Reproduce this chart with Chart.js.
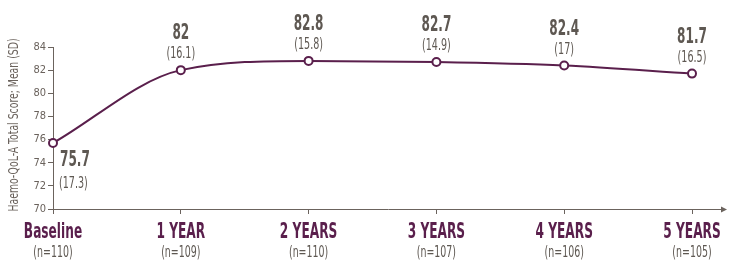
<!DOCTYPE html>
<html>
<head>
<meta charset="utf-8">
<script src="https://cdn.jsdelivr.net/npm/chart.js@4/dist/chart.umd.min.js"></script>
<style>
    html, body { margin: 0; padding: 0; background: #fff; }
    #wrap { width: 729px; height: 278px; position: relative; }
</style>
</head>
<body>
<div id="wrap"><canvas id="myChart" width="729" height="278"></canvas></div>
<script>
const categories = ['Baseline', '1 YEAR', '2 YEARS', '3 YEARS', '4 YEARS', '5 YEARS'];
const sampleSizes = ['(n=110)', '(n=109)', '(n=110)', '(n=107)', '(n=106)', '(n=105)'];
const meanScores = [75.7, 82, 82.8, 82.7, 82.4, 81.7];
const sdLabels = ['(17.3)', '(16.1)', '(15.8)', '(14.9)', '(17)', '(16.5)'];
const yTicks = [70, 72, 74, 76, 78, 80, 82, 84];
const yTitle = 'Haemo-QoL-A Total Score; Mean (SD)';

const purple = '#5a1f4c';
const grey = '#5e5852';
const axisGrey = '#6b635d';
const narrow = '"Liberation Sans Narrow", "DejaVu Sans Condensed", sans-serif';

// texto comprimido horizontalmente para imitar la fuente condensada
function drawText(ctx, text, x, y, font, color, scaleX, align, rot) {
    ctx.save();
    ctx.font = font;
    ctx.fillStyle = color;
    ctx.textBaseline = 'alphabetic';
    ctx.textAlign = align || 'center';
    ctx.translate(x, y);
    if (rot) {
        ctx.rotate(rot);
    }
    ctx.scale(scaleX, 1);
    ctx.fillText(text, 0, 0);
    ctx.restore();
}

const labelsPlugin = {
    id: 'labelsPlugin',
    afterDraw(chart) {
        const ctx = chart.ctx;
        const xScale = chart.scales.x;
        const yScale = chart.scales.y;
        const area = chart.chartArea;

        // eje x con flecha
        ctx.save();
        ctx.strokeStyle = axisGrey;
        ctx.lineWidth = 1;
        ctx.beginPath();
        ctx.moveTo(area.left, area.bottom + 0.5);
        ctx.lineTo(724, area.bottom + 0.5);
        ctx.stroke();
        ctx.fillStyle = axisGrey;
        ctx.beginPath();
        ctx.moveTo(727, area.bottom + 0.5);
        ctx.lineTo(721, area.bottom - 2.5);
        ctx.lineTo(721, area.bottom + 3.5);
        ctx.closePath();
        ctx.fill();
        ctx.restore();

        // título del eje y
        drawText(ctx, yTitle, 18, (area.top + area.bottom) / 2 - 3, '14px ' + narrow, '#6a625c', 0.74, 'center', -Math.PI / 2);

        categories.forEach(function (cat, i) {
            const px = xScale.getPixelForValue(i);
            const py = yScale.getPixelForValue(meanScores[i]);

            drawText(ctx, cat, px, 238, 'bold 21px ' + narrow, purple, 0.645, 'center');
            drawText(ctx, sampleSizes[i], px, 257, '15px ' + narrow, grey, 0.70, 'center');

            if (i === 0) {
                drawText(ctx, String(meanScores[i]), px + 7, py + 23, 'bold 21px ' + narrow, grey, 0.64, 'left');
                drawText(ctx, sdLabels[i], px + 6, py + 45, '15px ' + narrow, grey, 0.71, 'left');
            } else {
                drawText(ctx, String(meanScores[i]), px, py - 31, 'bold 21px ' + narrow, grey, 0.64, 'center');
                drawText(ctx, sdLabels[i], px, py - 12, '15px ' + narrow, grey, 0.71, 'center');
            }
        });
    }
};

const ctx = document.getElementById('myChart');
new Chart(ctx, {
    type: 'line',
    data: {
        labels: categories,
        datasets: [{
            data: meanScores,
            borderColor: purple,
            borderWidth: 2,
            cubicInterpolationMode: 'monotone',
            pointRadius: 4,
            pointBorderWidth: 2,
            pointBorderColor: purple,
            pointBackgroundColor: '#ffffff',
            fill: false
        }]
    },
    options: {
        responsive: false,
        animation: false,
        layout: {
            padding: {top: 47, right: 37, left: 0, bottom: 0}
        },
        plugins: {
            legend: {display: false},
            tooltip: {enabled: false}
        },
        scales: {
            x: {
                offset: false,
                grid: {display: true, drawOnChartArea: false, drawTicks: true, tickLength: 5, color: axisGrey},
                border: {display: false},
                ticks: {display: false},
                afterFit: function (scale) { scale.height = 69; }
            },
            y: {
                min: 70,
                max: 84,
                afterBuildTicks: function (scale) {
                    scale.ticks = yTicks.map(v => ({value: v}));
                },
                grid: {display: true, drawOnChartArea: false, drawTicks: true, tickLength: 5, color: axisGrey},
                border: {display: true, color: axisGrey, width: 1},
                ticks: {
                    color: '#6a625c',
                    padding: 2,
                    font: {family: narrow, size: 11}
                },
                afterFit: function (scale) { scale.width = 53; }
            }
        }
    },
    plugins: [labelsPlugin]
});
</script>
</body>
</html>
